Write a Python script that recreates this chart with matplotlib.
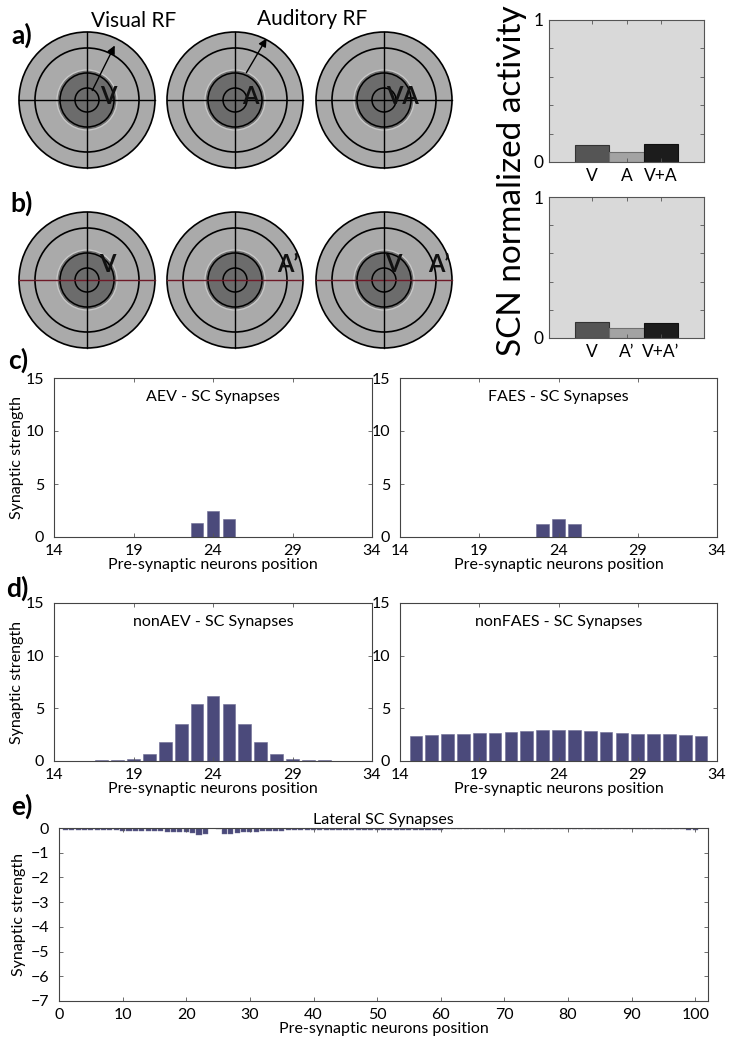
import matplotlib
matplotlib.use('Agg')
import matplotlib.pyplot as plt
from matplotlib.patches import Circle, FancyArrowPatch

plt.rcParams['font.family'] = ['Lato', 'DejaVu Sans']

W, H = 732, 1050

# ---------------------------------------------------------
# data
# ---------------------------------------------------------
scn_labels_a = ['V', 'A', 'V+A']
scn_values_a = [0.12, 0.068, 0.13]
scn_labels_b = ['V', 'A\u2019', 'V+A\u2019']
scn_values_b = [0.115, 0.069, 0.108]
scn_colors = ['#555555', '#a3a3a3', '#1c1c1c']

pos_aev = [23, 24, 25]
aev = [1.35, 2.45, 1.7]
pos_faes = [23, 24, 25]
faes = [1.2, 1.67, 1.23]

pos_nonaev = list(range(14, 35))
nonaev = [0.02, 0.03, 0.04, 0.06, 0.1, 0.2, 0.66, 1.78, 3.48, 5.41, 6.2,
          5.41, 3.48, 1.78, 0.66, 0.2, 0.1, 0.06, 0.04, 0.03, 0.02]
pos_nonfaes = list(range(15, 34))
nonfaes = [2.41, 2.50, 2.53, 2.60, 2.63, 2.66, 2.72, 2.88, 2.94, 2.98,
           2.94, 2.88, 2.72, 2.63, 2.60, 2.60, 2.56, 2.50, 2.41]

pos_lateral = list(range(1, 101))
lateral = [-0.07, -0.07, -0.07, -0.07, -0.07, -0.08, -0.08, -0.08, -0.09, -0.11,
           -0.11, -0.11, -0.12, -0.12, -0.12, -0.14, -0.15, -0.16, -0.17, -0.18,
           -0.20, -0.27, -0.25, 0.0, -0.05, -0.26, -0.24, -0.20, -0.18, -0.17,
           -0.15, -0.14, -0.13, -0.12, -0.12, -0.10, -0.10, -0.10, -0.10, -0.10,
           -0.10, -0.10, -0.09, -0.09, -0.09, -0.07, -0.07, -0.07, -0.07, -0.07,
           -0.07, -0.07, -0.07, -0.07, -0.07, -0.07, -0.07, -0.07, -0.07, -0.07,
           -0.06, -0.06, -0.06, -0.06, -0.06, -0.06, -0.06, -0.06, -0.06, -0.06,
           -0.06, -0.06, -0.06, -0.06, -0.06, -0.06, -0.06, -0.06, -0.06, -0.06,
           -0.06, -0.06, -0.06, -0.06, -0.06, -0.06, -0.06, -0.06, -0.06, -0.06,
           -0.06, -0.06, -0.06, -0.06, -0.06, -0.06, -0.06, -0.06, -0.07, -0.07]

bar_color = '#4b4a7b'

# ---------------------------------------------------------
# figure
# ---------------------------------------------------------
fig = plt.figure(figsize=(W / 100, H / 100), dpi=100)


def ax_px(l, t, r, b):
    return fig.add_axes([l / W, 1 - b / H, (r - l) / W, (b - t) / H])


# background axes in pixel coords for the schematic part
bg = fig.add_axes([0, 0, 1, 1])
bg.set_xlim(0, W)
bg.set_ylim(H, 0)
bg.axis('off')


def receptive_field(cx, cy, hline='black'):
    bg.add_patch(Circle((cx, cy), 68, fc='#aaaaaa', ec='black', lw=1.2))
    bg.add_patch(Circle((cx, cy), 52, fc='none', ec='black', lw=1.2))
    bg.add_patch(Circle((cx, cy), 30, fc='#6c6c6c', ec='#c8c8c8', lw=1.0))
    bg.add_patch(Circle((cx, cy), 27, fc='none', ec='black', lw=1.1))
    bg.add_patch(Circle((cx, cy), 12, fc='none', ec='black', lw=1.1))
    bg.plot([cx - 68, cx + 68], [cy, cy], color=hline, lw=1.0)
    bg.plot([cx, cx], [cy - 68, cy + 68], color='black', lw=1.0)


centers_x = [87, 235, 384]
for cx in centers_x:
    receptive_field(cx, 100)
    receptive_field(cx, 280, hline='#6e1a28')

bold = dict(fontweight='bold', ha='center', va='center', color='#111111')
bg.text(108, 96, 'V', fontsize=17, **bold)
bg.text(250, 96, 'A', fontsize=17, **bold)
bg.text(402, 96, 'VA', fontsize=17, **bold)
bg.text(107, 265, 'V', fontsize=17, **bold)
bg.text(288, 265, 'A\u2019', fontsize=17, **bold)
bg.text(393, 265, 'V', fontsize=17, **bold)
bg.text(439, 265, 'A\u2019', fontsize=17, **bold)

bg.text(91, 21, 'Visual RF', fontsize=15, ha='left', va='center')
bg.text(257, 19, 'Auditory RF', fontsize=15, ha='left', va='center')
for (x0, y0, x1, y1) in [(91, 93, 116, 43), (245, 75, 268, 36)]:
    bg.add_patch(FancyArrowPatch((x0, y0), (x1, y1), arrowstyle='-|>',
                                 mutation_scale=12, color='black', lw=1.0))

for lab, x, y in [('a)', 22, 35), ('b)', 22, 203), ('c)', 18, 360),
                  ('d)', 17, 588), ('e)', 22, 806)]:
    bg.text(x, y, lab, fontsize=19, fontweight='bold', ha='center', va='center')

# ---------------------------------------------------------
# SCN activity bars
# ---------------------------------------------------------
def scn_panel(ax, labels, values):
    ax.set_facecolor('#d9d9d9')
    ax.bar([1, 2, 3], values, width=1.0, color=scn_colors,
           edgecolor=['#333333', '#6f6f6f', '#111111'], lw=0.8)
    ax.set_xlim(-0.25, 4.25)
    ax.set_ylim(0, 1)
    ax.set_xticks([1, 2, 3])
    ax.set_xticklabels(labels)
    ax.set_yticks([0, 0.2, 0.4, 0.6, 0.8, 1.0])
    ax.set_yticklabels(['0', '', '', '', '', '1'])
    ax.tick_params(direction='in', top=True, right=True, length=3, width=0.6,
                   labelsize=12.5, pad=4, color='#555555')
    for s in ax.spines.values():
        s.set_linewidth(0.8)
        s.set_color('#555555')


scn_panel(ax_px(549, 20, 704, 162), scn_labels_a, scn_values_a)
scn_panel(ax_px(549, 197, 704, 338), scn_labels_b, scn_values_b)
fig.text(512 / W, 1 - 181 / H, 'SCN normalized activity', rotation=90,
         fontsize=24, ha='center', va='center')

# ---------------------------------------------------------
# synapse panels
# ---------------------------------------------------------
def style(ax):
    ax.tick_params(direction='in', top=True, right=True, length=3, width=0.6,
                   labelsize=11.5, color='#555555')
    ax.tick_params(axis='x', pad=5)
    ax.tick_params(axis='y', pad=7)
    for s in ax.spines.values():
        s.set_linewidth(0.8)
        s.set_color('#444444')


def synapse_panel(box, pos, vals, title, ylabel):
    ax = ax_px(*box)
    ax.bar(pos, vals, width=0.8, color=bar_color, edgecolor='#6d6c93', lw=0.4)
    ax.set_xlim(14, 34)
    ax.set_ylim(0, 15)
    ax.set_xticks([14, 19, 24, 29, 34])
    ax.set_yticks([0, 5, 10, 15])
    ax.text(0.5, 0.88, title, transform=ax.transAxes, ha='center',
            va='center', fontsize=11.5)
    ax.set_xlabel('Pre-synaptic neurons position', fontsize=11.5, labelpad=0)
    if ylabel:
        ax.set_ylabel('Synaptic strength', fontsize=11.5, labelpad=1)
    style(ax)
    return ax


synapse_panel((54, 378, 372, 537), pos_aev, aev, 'AEV - SC Synapses', True)
synapse_panel((400, 378, 717, 537), pos_faes, faes, 'FAES - SC Synapses', False)
synapse_panel((54, 603, 372, 761), pos_nonaev, nonaev, 'nonAEV - SC Synapses', True)
synapse_panel((400, 603, 717, 761), pos_nonfaes, nonfaes, 'nonFAES - SC Synapses', False)

ax = ax_px(59, 828, 708, 1001)
ax.bar(pos_lateral, lateral, width=0.8, color=bar_color, edgecolor='#6d6c93', lw=0.3)
ax.set_xlim(0, 102)
ax.set_ylim(-7, 0)
ax.set_xticks(range(0, 101, 10))
ax.set_yticks(range(-7, 1))
ax.set_title('Lateral SC Synapses', fontsize=11.5, pad=3)
ax.set_xlabel('Pre-synaptic neurons position', fontsize=11.5, labelpad=0)
ax.set_ylabel('Synaptic strength', fontsize=11.5, labelpad=3)
style(ax)

fig.savefig('out.png', dpi=100)
